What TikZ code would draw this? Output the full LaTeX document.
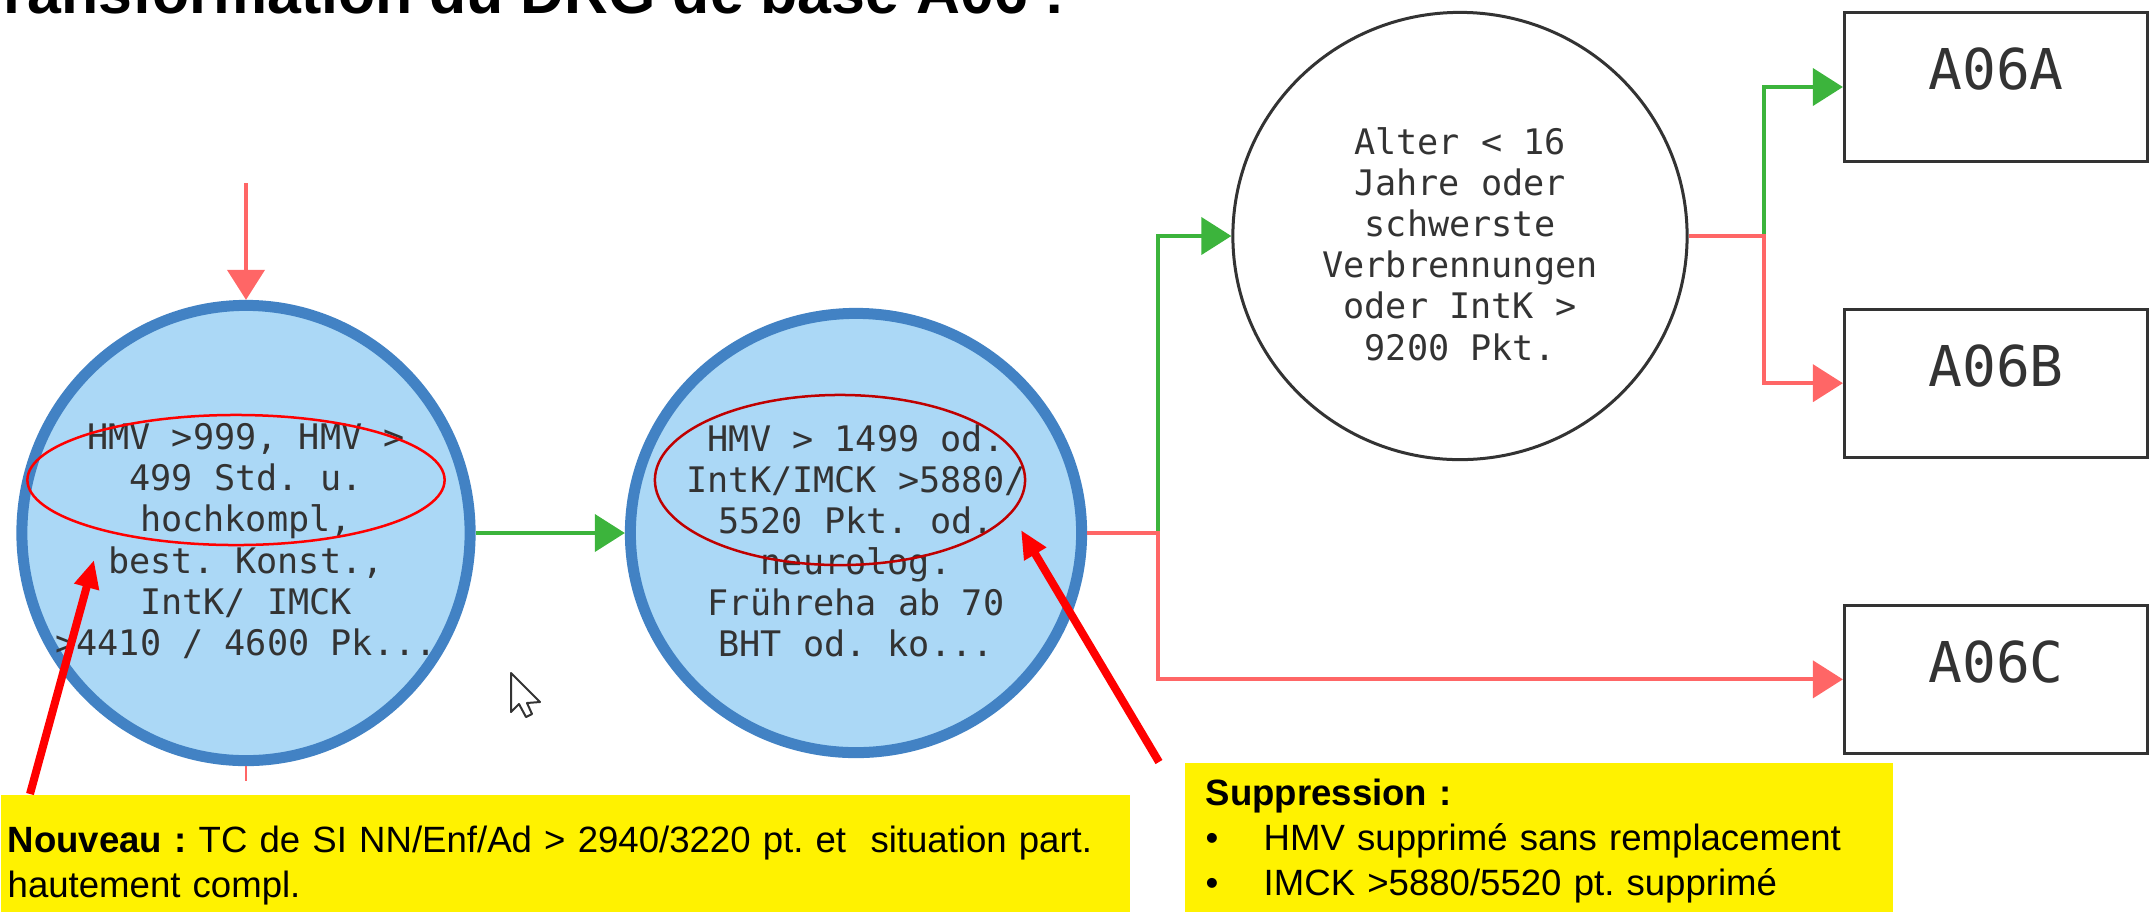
\documentclass[tikz,border=0pt]{standalone}
\usepackage{fontspec}
\setmainfont{Liberation Sans}
\newfontfamily\codefont{DejaVu Sans Mono}
\usepackage{tikz}
\usetikzlibrary{positioning, shapes.geometric, arrows.meta}
\frenchspacing

\definecolor{yesgreen}{RGB}{60,180,60}
\definecolor{nored}{RGB}{255,102,102}
\definecolor{nodeblue}{RGB}{66,130,196}
\definecolor{nodefill}{RGB}{171,216,246}
\definecolor{textgray}{RGB}{51,51,51}
\definecolor{darkred}{RGB}{192,0,0}

\tikzset{
  condtext/.style={align=center, text=textgray, yshift=-0.08cm, font=\codefont\fontsize{10}{11.7}\selectfont},
  hmvcond/.style={ellipse, draw=nodeblue, fill=nodefill, line width=0.11cm},
  agecond/.style={ellipse, draw=textgray, line width=0.03cm},
  drgbox/.style={draw=textgray, line width=0.03cm, minimum width=3.03cm, minimum height=1.48cm, text depth=0.36cm, text=textgray, font=\codefont\fontsize{16}{19}\selectfont},
  yesflow/.style={draw=yesgreen, line width=0.04cm, -{Triangle[length=0.3cm, width=0.37cm]}},
  noflow/.style={draw=nored, line width=0.04cm, -{Triangle[length=0.3cm, width=0.37cm]}},
  note/.style={fill=yellow, anchor=north west, align=left, font=\fontsize{10.4}{12.8}\selectfont},
  pointer/.style={draw=red, line width=0.08cm, -{Triangle[length=0.28cm, width=0.24cm]}},
  ring/.style={ellipse, draw, line width=0.025cm}
}

\begin{document}
\begin{tikzpicture}[x=0.01cm, y=-0.01cm, node distance=1.45cm, every node/.style={inner sep=0pt}]
        \useasboundingbox (0,0) rectangle (2153,911);

        % Title
        \node[anchor=base west, font=\bfseries\fontsize{17.3}{20}\selectfont] (title) at (3,13) {ransformation du DRG de base A06 :};

        % Conditions
        \node[hmvcond, minimum width=4.48cm, minimum height=4.55cm, label={[condtext]center:{HMV >999, HMV >\\499 Std. u.\\hochkompl,\\best. Konst.,\\IntK/ IMCK\\>4410 / 4600 Pk...}}] (hmv1) at (246,533) {};
        \node[hmvcond, minimum width=4.51cm, minimum height=4.39cm, label={[condtext]center:{HMV > 1499 od.\\IntK/IMCK >5880/\\5520 Pkt. od.\\neurolog.\\Frühreha ab 70\\BHT od. ko...}}] (hmv2) at (856,533) {};
        \node[agecond, minimum width=4.54cm, minimum height=4.47cm, label={[condtext]center:{Alter < 16\\Jahre oder\\schwerste\\Verbrennungen\\oder IntK >\\9200 Pkt.}}] (age) at (1460,236) {};

        % Leaf DRGs
        \node[drgbox] (a06a) at (1996,87) {A06A};
        \node[drgbox, below=of a06a] (a06b) {A06B};
        \node[drgbox, below=of a06b] (a06c) {A06C};

        % Flows
        \coordinate (entry) at (246,183);
        \coordinate (exit) at (246,781);
        \coordinate (split1) at (1158,533);
        \coordinate (split2) at (1764,236);
        \draw[noflow] (entry) -- (hmv1.north);
        \draw[draw=nored, line width=0.025cm] (hmv1.south) -- (exit);
        \draw[yesflow] (hmv1.east) -- (hmv2.west);
        \draw[yesflow] (split1) |- (age.west);
        \draw[noflow] (hmv2.east) -- (split1) |- (a06c.west);
        \draw[yesflow] (split2) |- (a06a.west);
        \draw[noflow] (age.east) -- (split2) |- (a06b.west);

        % Highlights
        \node[ring, draw=red, minimum width=4.17cm, minimum height=1.3cm] (ring1) at (236,480) {};
        \node[ring, draw=darkred, minimum width=3.7cm, minimum height=1.7cm] (ring2) at (840,480) {};

        % Notes
        \node[note, text width=11.15cm, inner xsep=0.07cm, minimum height=1.42cm] (newnote) at (0,794)
            {\textbf{Nouveau :} TC de SI NN/Enf/Ad > 2940/3220 pt. et~ situation part.\\hautement compl.};
        \node[note, text width=6.66cm, inner xsep=0.21cm, minimum height=1.57cm] (delnote) at (1184,762)
            {\textbf{Suppression :}\\\makebox[0.58cm][l]{\textbullet}HMV supprimé sans remplacement\\\makebox[0.58cm][l]{\textbullet}IMCK >5880/5520 pt. supprimé};

        % Pointers
        \coordinate (newfrom) at (30,794);
        \coordinate (newto) at (94,560);
        \coordinate (delfrom) at (1159,762);
        \coordinate (delto) at (1021,530);
        \draw[pointer] (newfrom) -- (newto);
        \draw[pointer] (delfrom) -- (delto);

        % Cursor
        \draw[fill=white, draw=textgray, line width=0.02cm, line join=round] (511,673) -- (511,712) -- (519,704) -- (526,717) -- (532,714) -- (527,703) -- (540,702) -- cycle;
    \end{tikzpicture}
\end{document}
